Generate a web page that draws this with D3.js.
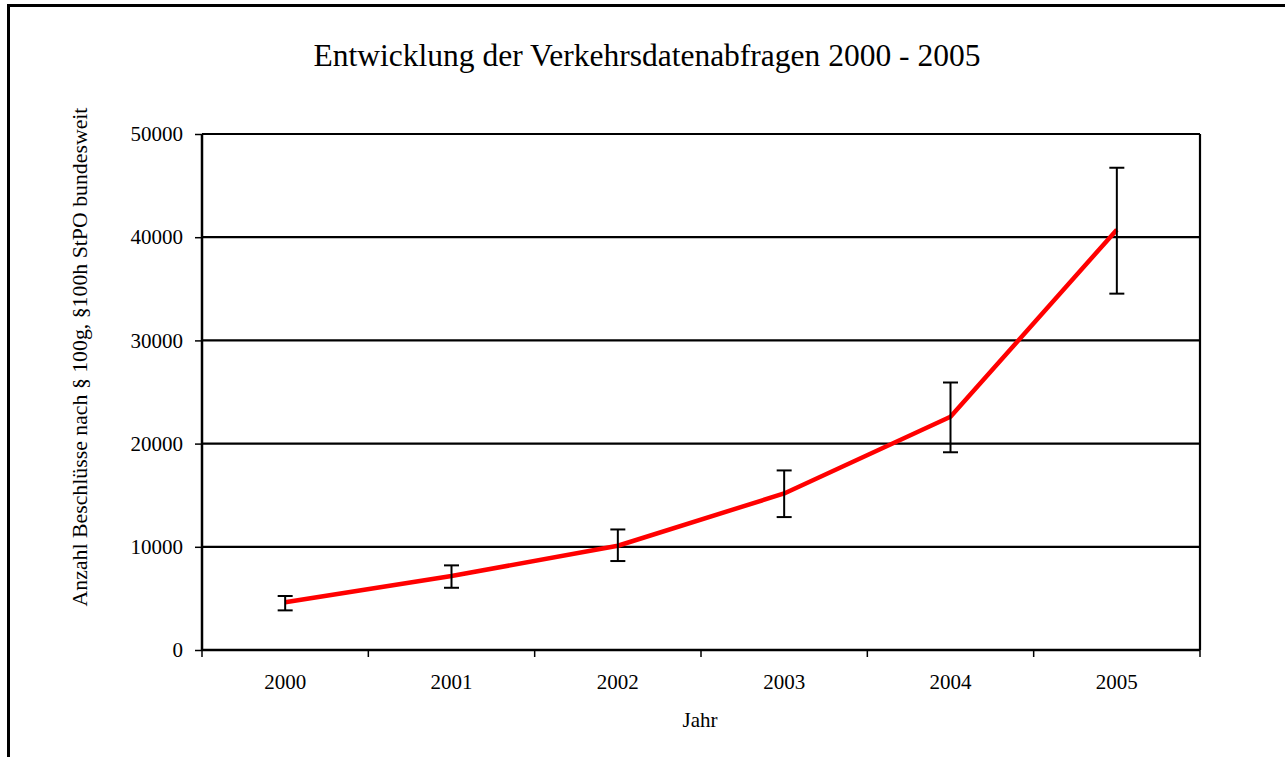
<!DOCTYPE html>
<html>
<head>
<meta charset="utf-8">
<script src="https://cdn.jsdelivr.net/npm/d3@7"></script>
<style>
  html, body { margin: 0; padding: 0; background: #fff; }
  text { font-family: "Liberation Serif", "Times New Roman", serif; fill: #000; }
</style>
</head>
<body>
<div id="chart"></div>
<script>
// Daten
const jahre = ["2000", "2001", "2002", "2003", "2004", "2005"];
const anzahl = [4620, 7170, 10100, 15170, 22600, 40730];
const fehlerOben = [5230, 8200, 11680, 17400, 25920, 46730];
const fehlerUnten = [3840, 6030, 8620, 12880, 19160, 34530];
const yTicks = [0, 10000, 20000, 30000, 40000, 50000];

const W = 1285, H = 757;
const margin = { top: 134, right: 85, bottom: 107, left: 202 };
const width = W - margin.left - margin.right;
const height = H - margin.top - margin.bottom;

const svg = d3.select("#chart").append("svg")
    .attr("width", W)
    .attr("height", H);

// Rahmen
svg.append("rect")
    .attr("x", 8.5).attr("y", 5.5)
    .attr("width", W - 3).attr("height", H + 20)
    .attr("fill", "none")
    .attr("stroke", "#000")
    .attr("stroke-width", 3);

svg.append("text")
    .attr("x", 647).attr("y", 66)
    .attr("text-anchor", "middle")
    .style("font-size", "31.5px")
    .text("Entwicklung der Verkehrsdatenabfragen 2000 - 2005");

const g = svg.append("g").attr("transform", `translate(${margin.left},${margin.top})`);

const x = d3.scaleBand().domain(jahre).range([0, width]);
const y = d3.scaleLinear().domain([0, 50000]).range([height, 0]);

// Gitterlinien
g.selectAll(".grid")
    .data(yTicks)
    .enter().append("line")
    .attr("x1", 0).attr("x2", width)
    .attr("y1", d => y(d)).attr("y2", d => y(d))
    .attr("stroke", "#000")
    .attr("stroke-width", 2.2);

// rechter Rand
g.append("line")
    .attr("x1", width).attr("x2", width)
    .attr("y1", 0).attr("y2", height)
    .attr("stroke", "#000").attr("stroke-width", 2.2);

// Y-Achse
const yAxis = g.append("g")
    .call(d3.axisLeft(y).tickValues(yTicks).tickSize(7).tickPadding(12).tickFormat(d3.format("d")));
yAxis.select(".domain").attr("stroke-width", 2.5).attr("d", `M0,${height}V0`);
yAxis.selectAll(".tick line").attr("stroke-width", 1.5);
yAxis.selectAll(".tick text")
    .style("font-size", "21px")
    .style("font-family", "Liberation Serif");

// X-Achse
const xAxis = g.append("g")
    .attr("transform", `translate(0,${height})`)
    .call(d3.axisBottom(x).tickSize(0));
xAxis.select(".domain").attr("stroke-width", 2.5).attr("d", `M0,0H${width}`);
xAxis.selectAll(".tick text")
    .attr("y", 39).attr("dy", 0)
    .style("font-size", "21px")
    .style("font-family", "Liberation Serif");

// Teilstriche zwischen den Kategorien
const grenzen = jahre.map(d => x(d)).concat([width]);
xAxis.selectAll(".sep")
    .data(grenzen)
    .enter().append("line")
    .attr("x1", d => d).attr("x2", d => d)
    .attr("y1", 0).attr("y2", 7)
    .attr("stroke", "#000")
    .attr("stroke-width", 1.5);

// Achsentitel
svg.append("text")
    .attr("x", 700).attr("y", 727)
    .attr("text-anchor", "middle")
    .style("font-size", "21px")
    .text("Jahr");

svg.append("text")
    .attr("transform", "translate(87,357) rotate(-90)")
    .attr("text-anchor", "middle")
    .style("font-size", "21.8px")
    .text("Anzahl Beschlüsse nach § 100g, §100h StPO bundesweit");

const cx = d => x(d) + x.bandwidth() / 2;

// Linie
const line = d3.line()
    .x((d, i) => cx(jahre[i]))
    .y(d => y(d));

g.append("path")
    .datum(anzahl)
    .attr("d", line)
    .attr("fill", "none")
    .attr("stroke", "#ff0000")
    .attr("stroke-width", 4.5)
    .attr("stroke-linejoin", "round");

// Fehlerbalken
const fb = g.selectAll(".fehler")
    .data(jahre)
    .enter().append("g")
    .attr("stroke", "#000")
    .attr("stroke-width", 2);

fb.append("line")
    .attr("x1", d => cx(d)).attr("x2", d => cx(d))
    .attr("y1", (d, i) => y(fehlerOben[i])).attr("y2", (d, i) => y(fehlerUnten[i]));
fb.append("line")
    .attr("x1", d => cx(d) - 7.5).attr("x2", d => cx(d) + 7.5)
    .attr("y1", (d, i) => y(fehlerOben[i])).attr("y2", (d, i) => y(fehlerOben[i]));
fb.append("line")
    .attr("x1", d => cx(d) - 7.5).attr("x2", d => cx(d) + 7.5)
    .attr("y1", (d, i) => y(fehlerUnten[i])).attr("y2", (d, i) => y(fehlerUnten[i]));
</script>
</body>
</html>
